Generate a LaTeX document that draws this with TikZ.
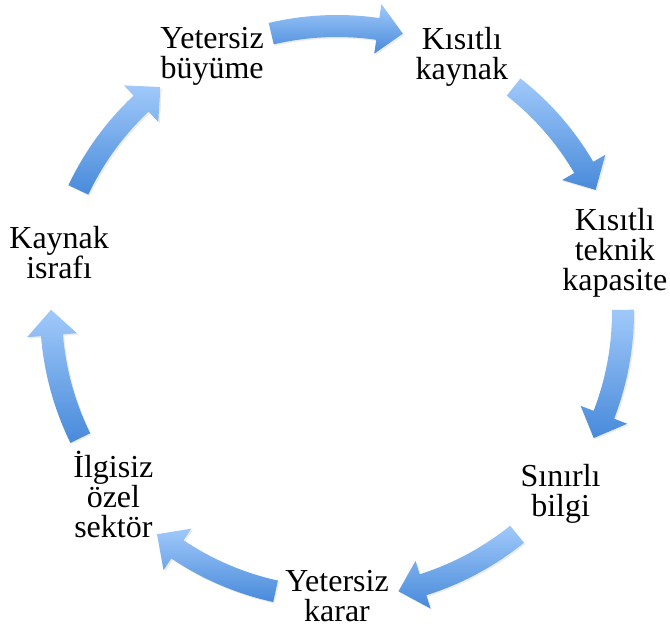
\documentclass[tikz,border=0pt]{standalone}
\usepackage{fontspec}
\setmainfont{Liberation Serif}
\usepackage{tikz}
\usetikzlibrary{positioning, shadows}
\definecolor{cyclight}{RGB}{160, 201, 250}
\definecolor{cycdark}{RGB}{72, 138, 218}
\tikzset{
    cyctext/.style={align=center, inner sep=0pt, font=\fontsize{32}{30}\selectfont},
    cycarrow/.style={top color=cyclight, bottom color=cycdark, draw=none,
        drop shadow={opacity=0.15, shadow xshift=1.5pt, shadow yshift=-1.5pt}}
}

\begin{document}
\begin{tikzpicture}[x=1pt, y=1pt]
    \useasboundingbox (0,0) rectangle (670,629);
    \begin{scope}[shift={(337,313)}]
        % steps of the cycle
        \node[cyctext] (buyume) at (115.7:288) {Yetersiz\\büyüme};
        \node[cyctext] (kaynak) at (64.3:288) {Kısıtlı\\kaynak};
        \node[cyctext] (teknik) at (12.86:285) {Kısıtlı\\teknik\\kapasite};
        \node[cyctext] (bilgi) at (-38.57:286) {Sınırlı\\bilgi};
        \node[cyctext] (karar) at (-90:280) {Yetersiz\\karar};
        \node[cyctext] (sektor) at (-141.43:286) {İlgisiz\\özel\\sektör};
        \node[cyctext] (israf) at (167.14:285) {Kaynak\\israfı};
        % arrows between the steps
        \foreach \a in {90, 38.57, -12.86, -64.29, -115.71, -167.14, -218.57} {
            \path[cycarrow, shift={(0,4)}] ({\a+13.3}:297)
                arc[start angle={\a+13.3}, end angle={\a-8.2}, radius=297pt]
                -- ({\a-8.2}:311) -- ({\a-13.3}:286) -- ({\a-8.2}:261) -- ({\a-8.2}:275)
                arc[start angle={\a-8.2}, end angle={\a+13.3}, radius=275pt] -- cycle;
        }
    \end{scope}
\end{tikzpicture}
\end{document}
